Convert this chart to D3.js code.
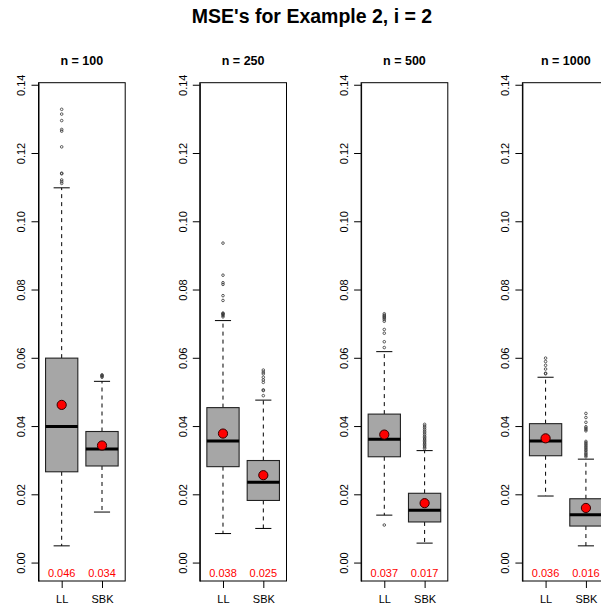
<!DOCTYPE html>
<html>
<head>
<meta charset="utf-8">
<script src="https://cdn.jsdelivr.net/npm/d3@7"></script>
<style>
  html, body { margin: 0; padding: 0; background: #fff; overflow: hidden; }
  svg { display: block; }
  text { font-family: "Liberation Sans", Arial, Helvetica, sans-serif; }
</style>
</head>
<body>
<script>
// ---------------- data ----------------
const chartTitle = "MSE's for Example 2, i = 2";
const sampleSizes = [100, 250, 500, 1000];
const methods = ["LL", "SBK"];
const yTicks = [0.00, 0.02, 0.04, 0.06, 0.08, 0.10, 0.12, 0.14];
const yTickLabels = ["0.00", "0.02", "0.04", "0.06", "0.08", "0.10", "0.12", "0.14"];

const llLower  = [0.0049, 0.0085, 0.0139, 0.0195];
const llQ1     = [0.0266, 0.0281, 0.0310, 0.0313];
const llMedian = [0.0399, 0.0356, 0.0361, 0.0356];
const llQ3     = [0.0599, 0.0454, 0.0435, 0.0407];
const llUpper  = [0.1098, 0.0709, 0.0618, 0.0543];
const llMean   = [0.0462, 0.0378, 0.0375, 0.0364];
const llMeanLabels = ["0.046", "0.038", "0.037", "0.036"];
const llOutliers = [
  [0.1111, 0.1116, 0.1121, 0.1139, 0.1141, 0.1218, 0.1264, 0.1269, 0.1295, 0.1314, 0.1328],
  [0.0720, 0.0724, 0.0727, 0.0729, 0.0731, 0.0768, 0.0782, 0.0815, 0.0820, 0.0842, 0.0936],
  [0.0110, 0.0630, 0.0647, 0.0672, 0.0683, 0.0707, 0.0712, 0.0716, 0.0719, 0.0722, 0.0725, 0.0729],
  [0.0553, 0.0555, 0.0567, 0.0578, 0.0589, 0.0599]
];

const sbkLower  = [0.0148, 0.0100, 0.0057, 0.0049];
const sbkQ1     = [0.0283, 0.0182, 0.0119, 0.0107];
const sbkMedian = [0.0333, 0.0235, 0.0153, 0.0140];
const sbkQ3     = [0.0384, 0.0299, 0.0203, 0.0187];
const sbkUpper  = [0.0531, 0.0476, 0.0328, 0.0303];
const sbkMean   = [0.0343, 0.0256, 0.0174, 0.0160];
const sbkMeanLabels = ["0.034", "0.025", "0.017", "0.016"];
const sbkOutliers = [
  [0.0543, 0.0546, 0.0548, 0.0550],
  [0.0489, 0.0504, 0.0506, 0.0528, 0.0535, 0.0543, 0.0553, 0.0558, 0.0564],
  [0.0334, 0.0338, 0.0342, 0.0346, 0.0350, 0.0354, 0.0358, 0.0362, 0.0366, 0.0370,
   0.0375, 0.0380, 0.0385, 0.0390, 0.0395, 0.0400, 0.0405],
  [0.0310, 0.0314, 0.0318, 0.0322, 0.0327, 0.0331, 0.0335, 0.0339, 0.0343, 0.0347,
   0.0351, 0.0355, 0.0386, 0.0390, 0.0394, 0.0398, 0.0411, 0.0425, 0.0437]
];

// ---------------- layout ----------------
const W = 601, H = 610;
const panelLeft0 = 38.5, panelStep = 161.3, panelW = 86.7;
const plotTop = 82.7, plotBottom = 581;

const svg = d3.select("body").append("svg").attr("width", W).attr("height", H);

const y = d3.scaleLinear().domain([-0.0054, 0.1406]).range([plotBottom, plotTop]);

svg.append("text")
  .attr("x", 312).attr("y", 23)
  .attr("text-anchor", "middle")
  .attr("font-size", 19.5).attr("font-weight", "bold")
  .text(chartTitle);

const stats = methods.map((m, mi) => ({
  lower: mi === 0 ? llLower : sbkLower,
  q1: mi === 0 ? llQ1 : sbkQ1,
  med: mi === 0 ? llMedian : sbkMedian,
  q3: mi === 0 ? llQ3 : sbkQ3,
  upper: mi === 0 ? llUpper : sbkUpper,
  mean: mi === 0 ? llMean : sbkMean,
  label: mi === 0 ? llMeanLabels : sbkMeanLabels,
  out: mi === 0 ? llOutliers : sbkOutliers
}));

sampleSizes.forEach((n, pi) => {
  const left = panelLeft0 + pi * panelStep;
  const x = d3.scaleLinear().domain([0.425, 2.575]).range([left, left + panelW]);
  const g = svg.append("g");
  const boxHalf = (x(1.4) - x(1));       // box width = 0.8 units
  const stapleHalf = boxHalf / 2;

  // panel title
  g.append("text")
    .attr("x", left + panelW / 2).attr("y", 65)
    .attr("text-anchor", "middle")
    .attr("font-size", 12.5).attr("font-weight", "bold")
    .text("n = " + n);

  // y axis
  const yAxis = d3.axisLeft(y).tickValues(yTicks)
    .tickFormat((d, i) => yTickLabels[i]).tickSize(7).tickSizeOuter(0);
  const ya = g.append("g").attr("transform", `translate(${left},0)`).call(yAxis);
  ya.select(".domain").attr("stroke", "#000");
  ya.selectAll(".tick line").attr("stroke", "#000");
  ya.selectAll(".tick text")
    .attr("font-size", 11).attr("fill", "#000")
    .attr("font-family", "'Liberation Sans', Arial, sans-serif")
    .attr("text-anchor", "middle")
    .attr("transform", "translate(-17,0) rotate(-90)")
    .attr("x", 0).attr("y", 0).attr("dy", "0.35em");

  // x axis
  const xAxis = d3.axisBottom(x).tickValues([1, 2])
    .tickFormat((d, i) => methods[i]).tickSize(7).tickSizeOuter(0);
  const xa = g.append("g").attr("transform", `translate(0,${plotBottom})`).call(xAxis);
  xa.select(".domain").remove();
  xa.selectAll(".tick line").attr("stroke", "#000");
  xa.selectAll(".tick text")
    .attr("font-size", 11).attr("fill", "#000")
    .attr("font-family", "'Liberation Sans', Arial, sans-serif")
    .attr("y", 14).attr("dy", "0.71em");

  // boxes
  stats.forEach((s, mi) => {
    const cx = x(mi + 1);
    // dashed whiskers
    g.append("line").attr("x1", cx).attr("x2", cx)
      .attr("y1", y(s.q3[pi])).attr("y2", y(s.upper[pi]))
      .attr("stroke", "#000").attr("stroke-dasharray", "4,4");
    g.append("line").attr("x1", cx).attr("x2", cx)
      .attr("y1", y(s.q1[pi])).attr("y2", y(s.lower[pi]))
      .attr("stroke", "#000").attr("stroke-dasharray", "4,4");
    // staples
    [s.upper[pi], s.lower[pi]].forEach(v => {
      g.append("line").attr("x1", cx - stapleHalf).attr("x2", cx + stapleHalf)
        .attr("y1", y(v)).attr("y2", y(v)).attr("stroke", "#000");
    });
    // box
    g.append("rect")
      .attr("x", cx - boxHalf).attr("width", 2 * boxHalf)
      .attr("y", y(s.q3[pi])).attr("height", y(s.q1[pi]) - y(s.q3[pi]))
      .attr("fill", "#a6a6a6").attr("stroke", "#222").attr("stroke-width", 1.1);
    // median
    g.append("line").attr("x1", cx - boxHalf).attr("x2", cx + boxHalf)
      .attr("y1", y(s.med[pi])).attr("y2", y(s.med[pi]))
      .attr("stroke", "#000").attr("stroke-width", 3);
    // outliers
    g.selectAll(null).data(s.out[pi]).enter().append("circle")
      .attr("cx", cx).attr("cy", d => y(d)).attr("r", 1.3)
      .attr("fill", "none").attr("stroke", "#333").attr("stroke-width", 0.8);
    // mean point
    g.append("circle").attr("cx", cx).attr("cy", y(s.mean[pi])).attr("r", 4.6)
      .attr("fill", "#ff0000").attr("stroke", "#300").attr("stroke-width", 1);
    // mean label
    g.append("text").attr("x", cx).attr("y", 577.3)
      .attr("text-anchor", "middle").attr("font-size", 11)
      .attr("fill", "#ff0000").text(s.label[pi]);
  });

  // frame
  g.append("rect").attr("x", left).attr("y", plotTop)
    .attr("width", panelW).attr("height", plotBottom - plotTop)
    .attr("fill", "none").attr("stroke", "#000").attr("stroke-width", 1);
});
</script>
</body>
</html>
